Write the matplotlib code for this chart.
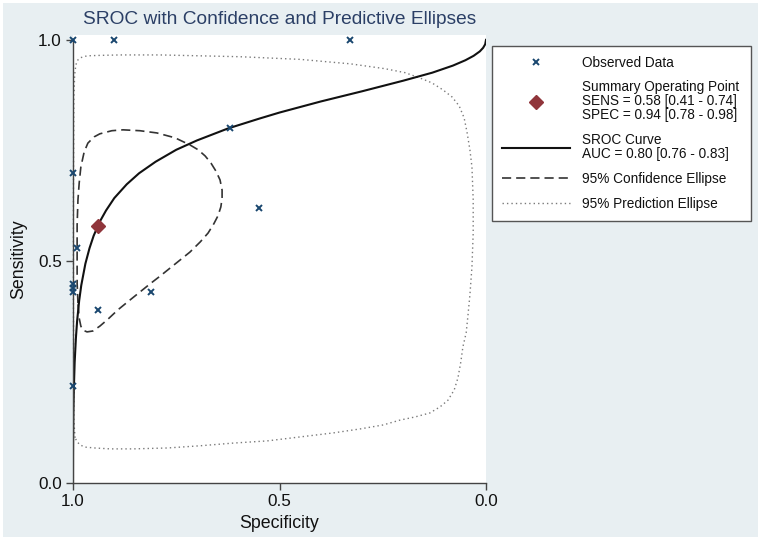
import matplotlib
matplotlib.use("Agg")
import matplotlib.pyplot as plt
from matplotlib.patches import Rectangle

plt.rcParams['font.family'] = ['Liberation Sans', 'DejaVu Sans']

# observed studies (specificity, sensitivity)
obs_spec = [1.0, 0.90, 0.33, 1.0, 0.62, 0.55, 0.99, 1.0, 1.0, 1.0, 0.94, 0.81, 1.0]
obs_sens = [1.0, 1.0, 1.0, 0.70, 0.80, 0.62, 0.53, 0.45, 0.44, 0.43, 0.39, 0.43, 0.22]

# summary operating point
sens, sens_lo, sens_hi = 0.58, 0.41, 0.74
spec, spec_lo, spec_hi = 0.94, 0.78, 0.98
auc, auc_lo, auc_hi = 0.80, 0.76, 0.83

# SROC curve
sroc_spec = [1.0, 0.9999, 0.9997, 0.999, 0.998, 0.996, 0.993, 0.99, 0.985, 0.98,
             0.97, 0.96, 0.95, 0.935, 0.92, 0.90, 0.87, 0.84, 0.80, 0.75,
             0.70, 0.625, 0.55, 0.50, 0.40, 0.30, 0.20, 0.13, 0.08, 0.05,
             0.03, 0.015, 0.007, 0.002, 0.0]
sroc_sens = [0.0, 0.061, 0.098, 0.162, 0.211, 0.272, 0.327, 0.366, 0.412, 0.446,
             0.495, 0.530, 0.558, 0.590, 0.615, 0.643, 0.674, 0.699, 0.725, 0.752,
             0.773, 0.800, 0.822, 0.836, 0.861, 0.884, 0.908, 0.926, 0.942, 0.954,
             0.964, 0.974, 0.982, 0.990, 1.0]

# 95% confidence ellipse
conf_spec = [0.988, 0.990, 0.990, 0.990, 0.990, 0.988, 0.985, 0.981, 0.973, 0.964,
             0.949, 0.935, 0.906, 0.879, 0.838, 0.797, 0.753, 0.717, 0.697, 0.680,
             0.666, 0.654, 0.644, 0.639, 0.639, 0.642, 0.649, 0.659, 0.673, 0.692,
             0.717, 0.741, 0.765, 0.789, 0.814, 0.838, 0.862, 0.891, 0.915, 0.935,
             0.952, 0.966, 0.976, 0.981, 0.985, 0.988]
conf_sens = [0.406, 0.451, 0.492, 0.537, 0.582, 0.639, 0.677, 0.713, 0.747, 0.767,
             0.781, 0.788, 0.795, 0.797, 0.795, 0.790, 0.779, 0.763, 0.752, 0.738,
             0.722, 0.704, 0.684, 0.661, 0.643, 0.623, 0.603, 0.585, 0.564, 0.544,
             0.521, 0.503, 0.485, 0.467, 0.449, 0.431, 0.413, 0.391, 0.370, 0.354,
             0.343, 0.341, 0.345, 0.354, 0.372, 0.406]

# 95% prediction ellipse
pred_spec = [0.995, 0.998, 0.998, 0.999, 0.999, 0.998, 0.996, 0.993, 0.988, 0.981,
             0.966, 0.935, 0.886, 0.789, 0.692, 0.596, 0.523, 0.450, 0.378, 0.329,
             0.245, 0.196, 0.160, 0.131, 0.104, 0.082, 0.065, 0.053, 0.046, 0.039,
             0.034, 0.031, 0.031, 0.034, 0.039, 0.044, 0.048, 0.056, 0.061, 0.068,
             0.077, 0.092, 0.111, 0.136, 0.172, 0.208, 0.249, 0.305, 0.370, 0.450,
             0.530, 0.613, 0.692, 0.772, 0.855, 0.910, 0.947, 0.971, 0.983, 0.990,
             0.995]
pred_sens = [0.102, 0.142, 0.187, 0.413, 0.639, 0.865, 0.921, 0.944, 0.955, 0.960,
             0.964, 0.965, 0.966, 0.966, 0.964, 0.962, 0.959, 0.956, 0.950, 0.946,
             0.935, 0.926, 0.914, 0.903, 0.887, 0.871, 0.851, 0.824, 0.792, 0.752,
             0.713, 0.639, 0.564, 0.488, 0.424, 0.375, 0.339, 0.307, 0.273, 0.237,
             0.210, 0.187, 0.172, 0.158, 0.149, 0.142, 0.131, 0.122, 0.113, 0.104,
             0.095, 0.090, 0.084, 0.079, 0.077, 0.077, 0.079, 0.081, 0.086, 0.093,
             0.102]

ticks = [1.0, 0.5, 0.0]
tick_labels = ['1.0', '0.5', '0.0']

W, H = 764, 542
fig = plt.figure(figsize=(W / 100, H / 100), dpi=100)
fig.patch.set_facecolor('white')
fig.add_artist(Rectangle((3 / W, 5 / H), 755 / W, 534 / H, transform=fig.transFigure,
                         facecolor='#e8eff2', edgecolor='none', zorder=-5))

ax = fig.add_axes([73 / W, 1 - 483 / H, 413 / W, 448 / H])
ax.set_facecolor('white')
ax.set_xlim(1.0, 0.0)
ax.set_ylim(0.0, 1.011)

l_pred, = ax.plot(pred_spec, pred_sens, color='#7a7a7a', lw=1.0, ls=(0, (1, 2.2)),
                  clip_on=False)
l_conf, = ax.plot(conf_spec, conf_sens, color='#333333', lw=1.2, ls=(0, (5.5, 3)))
l_sroc, = ax.plot(sroc_spec, sroc_sens, color='#111111', lw=1.5)
l_obs, = ax.plot(obs_spec, obs_sens, ls='none', marker='x', color='#1a476f',
                 ms=4, mew=1.4, clip_on=False, zorder=4)
l_sum, = ax.plot([spec], [sens], ls='none', marker='D', color='#90353b',
                 ms=7, zorder=5)

ax.set_xticks(ticks)
ax.set_xticklabels(tick_labels)
ax.set_yticks(ticks)
ax.set_yticklabels(tick_labels)
ax.tick_params(direction='out', length=5, width=1, labelsize=12.3, pad=3,
               color='#444444', labelcolor='#111111')
for s in ['top', 'right']:
    ax.spines[s].set_visible(False)
for s in ['left', 'bottom']:
    ax.spines[s].set_color('#444444')
    ax.spines[s].set_linewidth(1.0)
ax.spines['left'].set_bounds(0, 1)

ax.set_xlabel('Specificity', fontsize=12.8, labelpad=4, color='#111111')
ax.set_ylabel('Sensitivity', fontsize=12.8, labelpad=8, color='#111111')

fig.text(279.5 / W, 1 - 20 / H, 'SROC with Confidence and Predictive Ellipses',
         ha='center', va='center', fontsize=13.8, color='#2b3f66')

labels = [
    'Observed Data',
    'Summary Operating Point\n'
    f'SENS = {sens:.2f} [{sens_lo:.2f} - {sens_hi:.2f}]\n'
    f'SPEC = {spec:.2f} [{spec_lo:.2f} - {spec_hi:.2f}]',
    f'SROC Curve\nAUC = {auc:.2f} [{auc_lo:.2f} - {auc_hi:.2f}]',
    '95% Confidence Ellipse',
    '95% Prediction Ellipse',
]
leg = fig.legend([l_obs, l_sum, l_sroc, l_conf, l_pred], labels,
                 loc='upper left',
                 bbox_to_anchor=(492 / W, 1 - 46 / H, 259 / W, 0),
                 mode='expand', borderaxespad=0, fontsize=9.8,
                 handlelength=5.0, handletextpad=0.9, labelspacing=0.8,
                 borderpad=0.7, fancybox=False, framealpha=1,
                 edgecolor='#555555', facecolor='white')
leg.get_frame().set_linewidth(1.0)
for t in leg.get_texts():
    t.set_linespacing(1.0)
    t.set_color('#111111')

fig.savefig('out.png', dpi=100)
